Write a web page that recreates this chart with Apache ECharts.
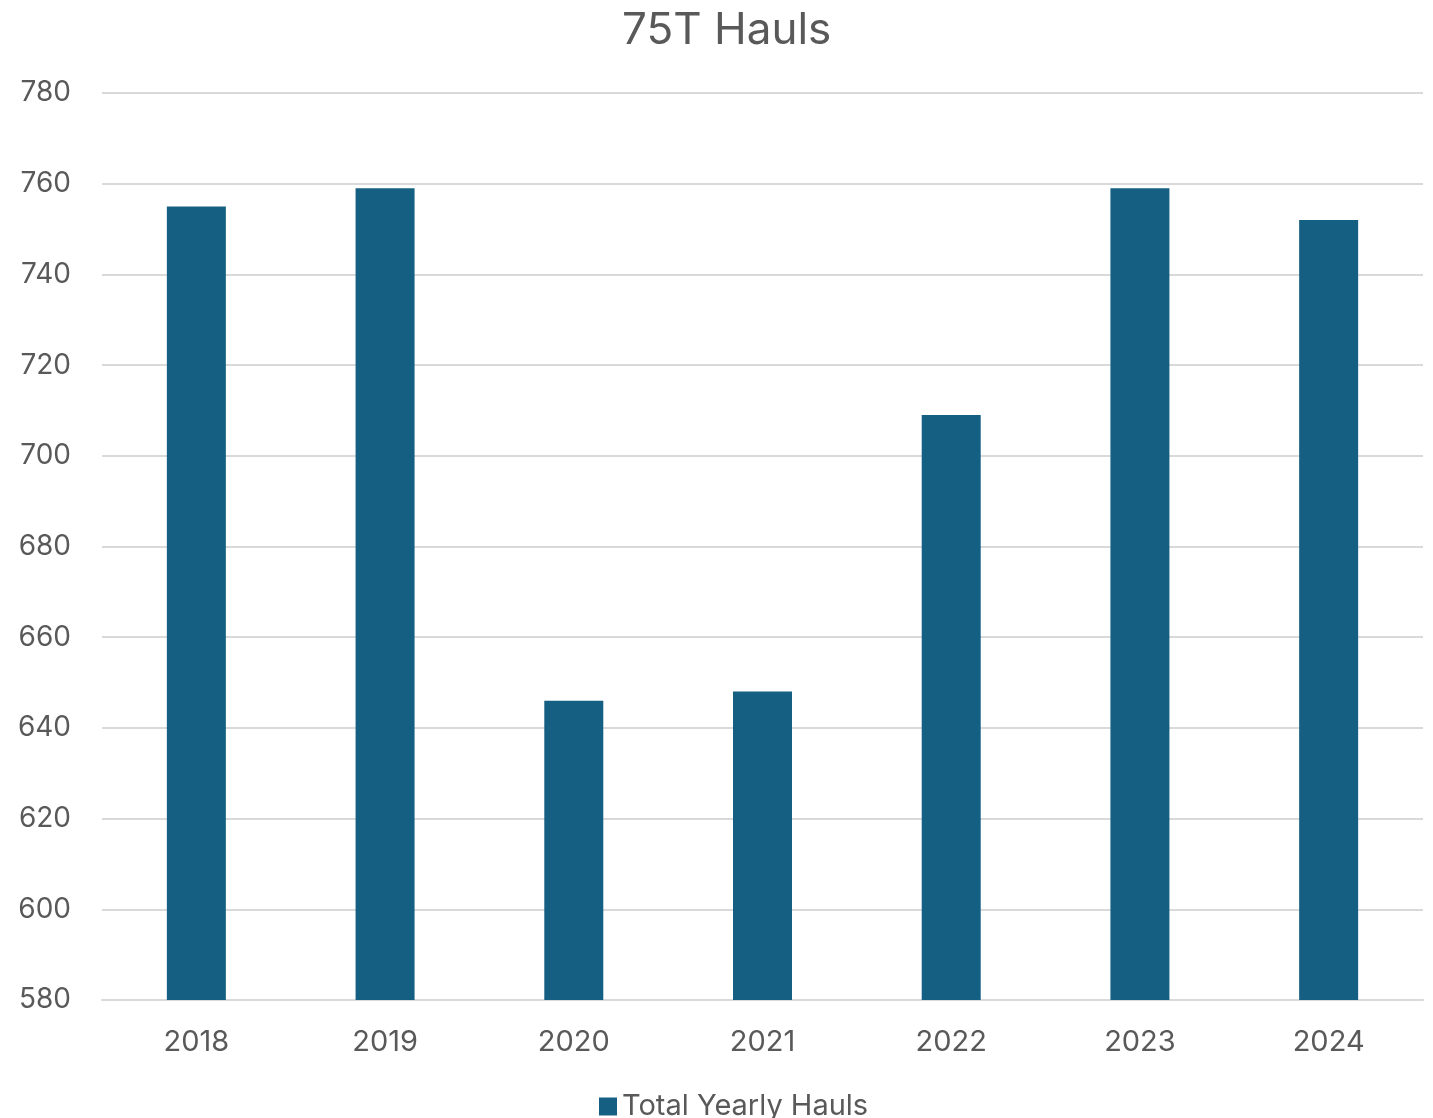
<!DOCTYPE html>
<html>
<head>
<meta charset="utf-8">
<title>75T Hauls</title>
<script src="https://cdn.jsdelivr.net/npm/echarts@6/dist/echarts.min.js"></script>
<style>
  html, body { margin: 0; padding: 0; background: #fff; }
  #chart { width: 1433px; height: 1118px; }
</style>
</head>
<body>
<div id="chart"></div>
<script>
// chart data
const years = ['2018', '2019', '2020', '2021', '2022', '2023', '2024'];
const totalHauls = [755, 759, 646, 648, 709, 759, 752];
const seriesName = 'Total Yearly Hauls';

const textColor = '#595959';
const font = 'Inter, "Open Sans", sans-serif';

const myChart = echarts.init(document.getElementById('chart'));

const option = {
  animation: false,
  title: {
    text: '75T Hauls',
    left: 617,
    top: 4,
    textStyle: { fontFamily: font, fontSize: 44, fontWeight: 'normal', color: textColor }
  },
  legend: {
    top: 1087,
    left: 594,
    icon: 'rect',
    itemWidth: 18,
    itemHeight: 18,
    itemGap: 6,
    textStyle: { fontFamily: font, fontSize: 29, color: textColor }
  },
  grid: { left: 102, right: 10, top: 93, bottom: 118 },
  xAxis: {
    type: 'category',
    data: years,
    axisTick: { show: false },
    axisLine: { lineStyle: { color: '#d9d9d9', width: 2 } },
    axisLabel: { fontFamily: font, fontSize: 29, color: textColor, margin: 28 }
  },
  yAxis: {
    type: 'value',
    min: 580,
    max: 780,
    interval: 20,
    axisLine: { show: false },
    axisTick: { show: false },
    splitLine: { lineStyle: { color: '#d9d9d9', width: 2 } },
    axisLabel: { fontFamily: font, fontSize: 28, color: textColor, margin: 31 }
  },
  series: [
    {
      name: seriesName,
      type: 'bar',
      barWidth: 59,
      itemStyle: { color: '#156082' },
      data: totalHauls
    }
  ]
};

myChart.setOption(option);
</script>
</body>
</html>
